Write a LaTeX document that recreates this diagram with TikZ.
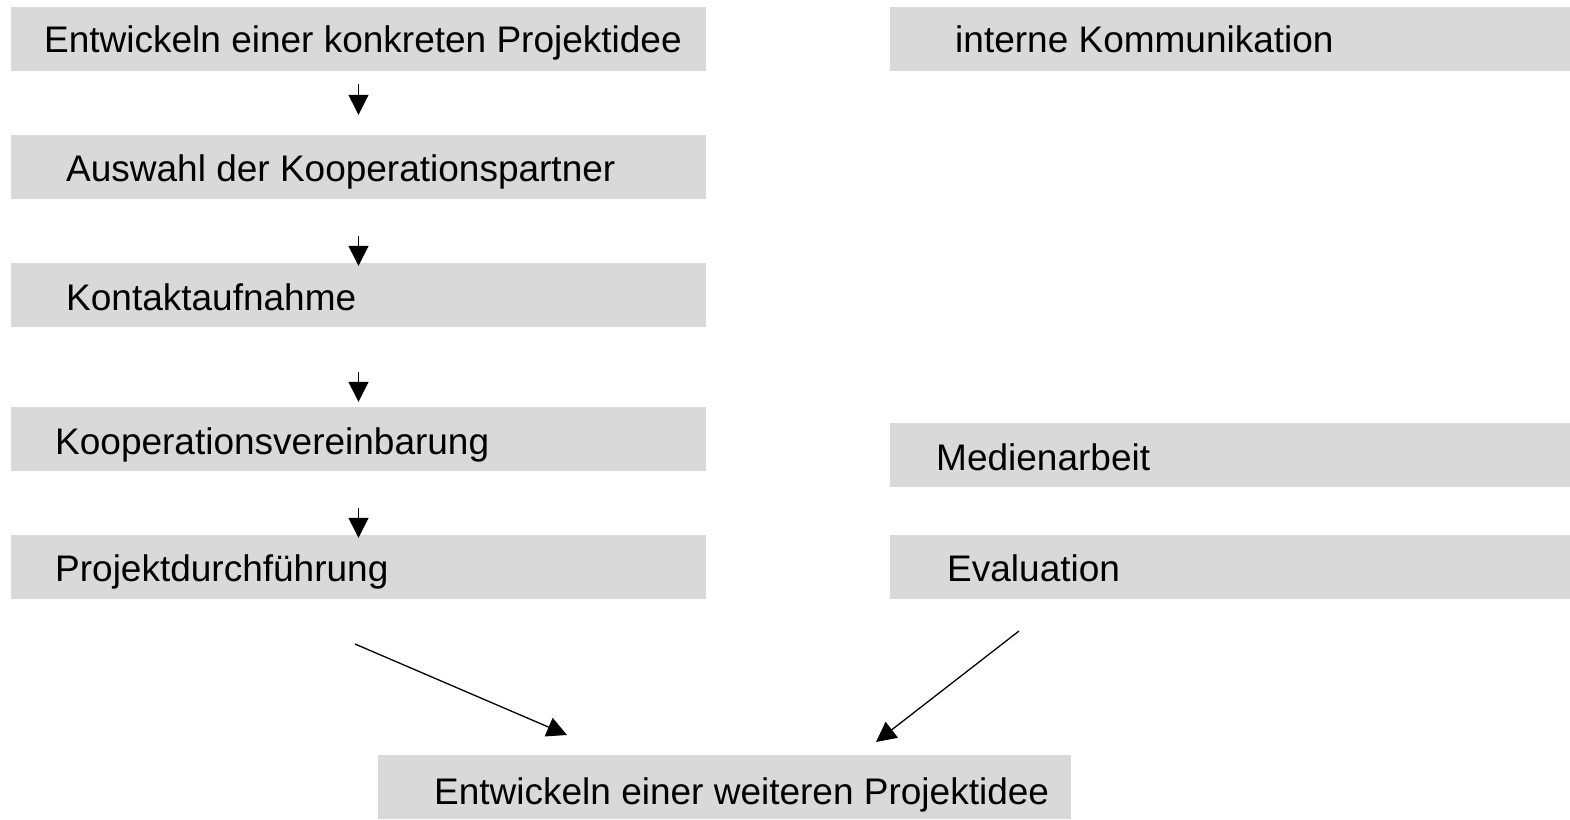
\documentclass[tikz,border=0pt]{standalone}
\usepackage{fontspec}
\setmainfont{Liberation Sans}
\usepackage{xcolor}
\usetikzlibrary{arrows.meta, positioning}
\definecolor{boxgray}{RGB}{217,217,217}

\tikzset{
  stepbox/.style={fill=boxgray, draw=none, inner sep=0pt, minimum height=64pt},
  leftbox/.style={stepbox, minimum width=695pt},
  rightbox/.style={stepbox, minimum width=680pt},
  lbl/.style={anchor=base west, inner sep=0pt, font=\fontsize{37}{44}\selectfont},
  flow/.style={-{Triangle[length=20pt,width=20pt]}, line width=1.3pt},
}

\begin{document}
\begin{tikzpicture}[x=1pt, y=-1pt]
      \useasboundingbox (0, 0) rectangle (1570, 819);

      % linke Spalte
      \node[leftbox] (idee) at (358.5, 39) {};
      \node[leftbox] (auswahl) at (358.5, 167) {};
      \node[leftbox] (kontakt) at (358.5, 295) {};
      \node[leftbox] (vereinb) at (358.5, 439) {};
      \node[leftbox] (durchf) at (358.5, 567) {};

      \node[lbl] (tidee) at (44, 52.5) {Entwickeln einer konkreten Projektidee};
      \node[lbl] (tauswahl) at (66, 181) {Auswahl der Kooperationspartner};
      \node[lbl] (tkontakt) at (66, 310) {Kontaktaufnahme};
      \node[lbl] (tvereinb) at (55, 454) {Kooperationsvereinbarung};
      \node[lbl] (tdurchf) at (55, 581) {Projektdurchführung};

      % rechte Spalte
      \node[rightbox] (intern) at (1230, 39) {};
      \node[rightbox] (medien) at (1230, 455) {};
      \node[rightbox] (eval) at (1230, 567) {};

      \node[lbl] (tintern) at (955, 52.5) {interne Kommunikation};
      \node[lbl] (tmedien) at (936, 470) {Medienarbeit};
      \node[lbl] (teval) at (947, 581) {Evaluation};

      % unten
      \node[stepbox, minimum width=693pt] (weitere) at (724.5, 787) {};
      \node[lbl] (tweitere) at (434, 804) {Entwickeln einer weiteren Projektidee};

      % Pfeile
      \draw[flow, shorten <=13pt, shorten >=20pt] (idee.south) -- (auswahl.north);
      \draw[flow, shorten <=37pt, shorten >=-3pt] (auswahl.south) -- (kontakt.north);
      \draw[flow, shorten <=45pt, shorten >=5pt] (kontakt.south) -- (vereinb.north);
      \draw[flow, shorten <=37pt, shorten >=-3pt] (vereinb.south) -- (durchf.north);

      \coordinate (links) at (355, 644);
      \coordinate (linksend) at (567, 735);
      \coordinate (rechts) at (1019, 631);
      \coordinate (rechtsend) at (876, 742);
      \draw[flow] (links) -- (linksend);
      \draw[flow] (rechts) -- (rechtsend);

    \end{tikzpicture}
\end{document}
